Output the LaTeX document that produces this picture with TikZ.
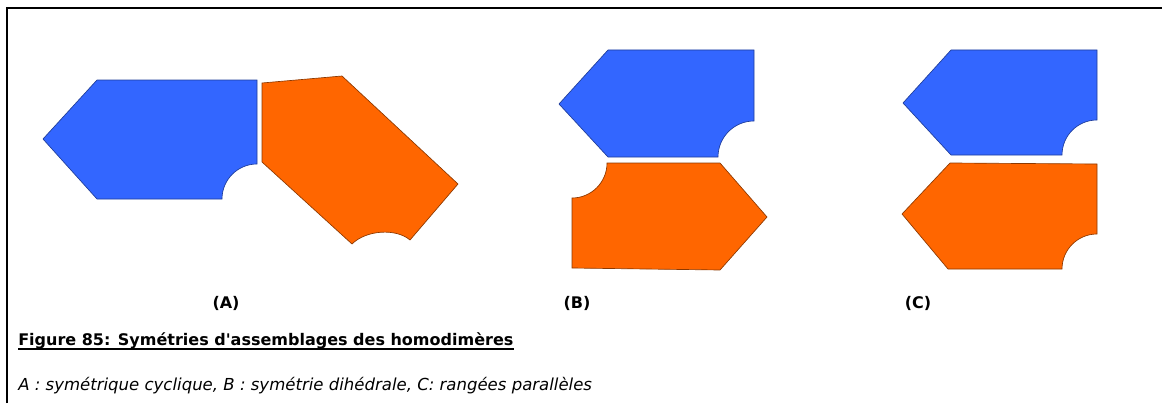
\documentclass[tikz,border=0pt]{standalone}
\usepackage{fontspec}
\setmainfont{DejaVu Sans}
\definecolor{pieceblue}{HTML}{3366FF}
\definecolor{pieceorange}{HTML}{FF6600}
\begin{document}
\begin{tikzpicture}[x=0.75pt, y=-0.75pt,
  bluepiece/.style={fill=pieceblue, draw=pieceblue!60!black, line width=0.5pt},
  orangepiece/.style={fill=pieceorange, draw=pieceorange!55!black, line width=0.5pt},
  tag/.style={font=\bfseries\fontsize{12}{14}\selectfont, inner sep=0pt},
]
\useasboundingbox (0,0) rectangle (1162,403);

% frame
\draw[line width=1.5pt] (7,403) -- (7,8) -- (1162,8);

% --- (A) cyclic ---
\draw[bluepiece] (43,139) -- (97,80) -- (257,80) -- (257,164)
  arc[start angle=270, end angle=180, radius=35] -- (97,199) -- cycle;
\draw[orangepiece] (262,83) -- (342,76) -- (458,184) -- (410,240)
  .. controls (396,228) and (366,230) .. (352,244) -- (262,162) -- cycle;

% --- (B) dihedral ---
\draw[bluepiece] (559,104) -- (608,50) -- (754,50) -- (754,121)
  arc[start angle=270, end angle=180, radius=36] -- (608,157) -- cycle;
\draw[orangepiece] (607,163) -- (720,163) -- (767,217) -- (720,270)
  -- (572,268) -- (572,198) arc[start angle=90, end angle=0, radius=35] -- cycle;

% --- (C) parallel rows ---
\draw[bluepiece] (903,103) -- (951,50) -- (1097,50) -- (1097,120)
  arc[start angle=270, end angle=180, radius=35] -- (951,155) -- cycle;
\draw[orangepiece] (902,214) -- (950,163) -- (1097,164) -- (1097,234)
  arc[start angle=270, end angle=180, radius=35] -- (948,269) -- cycle;

% labels
\node[tag] (labA) at (226,303) {(A)};
\node[tag] (labB) at (577,303) {(B)};
\node[tag] (labC) at (918,303) {(C)};

% caption
\node[font=\bfseries\fontsize{12}{14}\selectfont, inner sep=0pt, anchor=base west]
  (caption) at (18,345) {Figure 85: Symétries d\textquotesingle assemblages des homodimères};
\draw[line width=1.2pt] ([yshift=-3pt]caption.base west) -- ([yshift=-3pt]caption.base east);
\node[font=\itshape\fontsize{12.4}{14}\selectfont, inner sep=0pt, anchor=base west]
  (legend) at (18,390) {A : symétrique cyclique, B : symétrie dihédrale, C: rangées parallèles};
\end{tikzpicture}
\end{document}
